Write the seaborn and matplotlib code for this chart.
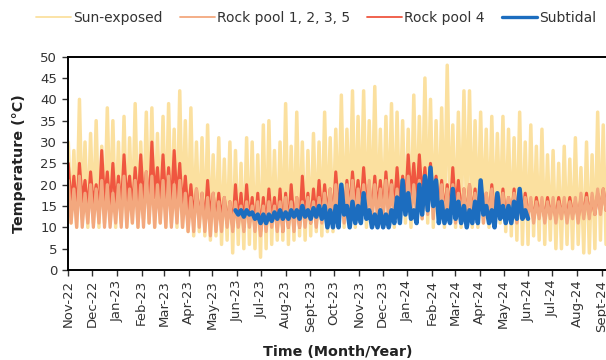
import matplotlib
matplotlib.use("Agg")
import matplotlib.pyplot as plt
from matplotlib.lines import Line2D
import numpy as np
import pandas as pd
import seaborn as sns

# ---------------- data (weekly local peaks / troughs) ----------------
start_date = "2022-11-01"

sun_hi = [30, 28, 40, 30, 32, 35, 29, 38, 35, 30,
          36, 31, 39, 30, 37, 38, 32, 36, 39, 33,
          42, 35, 38, 30, 31, 34, 27, 31, 26, 30,
          28, 25, 31, 30, 27, 34, 35, 28, 30, 39,
          29, 37, 30, 28, 32, 30, 37, 31, 33, 41,
          33, 42, 36, 42, 35, 43, 33, 36, 39, 37,
          35, 33, 41, 36, 45, 40, 35, 38, 48, 34,
          37, 42, 42, 35, 37, 33, 36, 32, 36, 33,
          31, 37, 30, 34, 29, 33, 27, 28, 25, 29,
          26, 31, 24, 30, 27, 37, 34]
sun_lo = [11, 10, 12, 10, 11, 10, 11, 12, 10, 11,
          10, 11, 10, 12, 11, 10, 11, 10, 11, 10,
          10, 9, 8, 9, 8, 7, 8, 6, 7, 4,
          6, 5, 6, 5, 3, 5, 6, 7, 7, 6,
          7, 8, 7, 8, 9, 8, 9, 9, 10, 10,
          11, 10, 11, 10, 11, 10, 10, 11, 10, 11,
          11, 10, 11, 12, 11, 10, 11, 10, 11, 10,
          10, 11, 10, 10, 11, 10, 10, 11, 9, 8,
          7, 6, 6, 8, 7, 6, 7, 5, 5, 6,
          5, 6, 4, 4, 5, 7, 6]

pool_hi = [21, 19, 22, 18, 20, 19, 21, 20, 18, 20,
           22, 19, 21, 20, 23, 22, 20, 21, 22, 20,
           21, 18, 17, 19, 18, 17, 18, 16, 17, 16,
           16, 15, 16, 15, 16, 15, 16, 15, 16, 17,
           16, 17, 16, 17, 16, 17, 18, 19, 20, 18,
           20, 21, 19, 20, 21, 20, 19, 21, 20, 19,
           21, 22, 20, 21, 22, 23, 21, 20, 19, 20,
           18, 19, 20, 18, 19, 18, 19, 17, 18, 17,
           18, 17, 17, 17, 16, 17, 16, 17, 16, 17,
           16, 17, 18, 17, 18, 19, 19]
pool_lo = [11, 10, 10, 11, 10, 11, 10, 10, 11, 10,
           10, 11, 10, 10, 11, 10, 11, 10, 10, 11,
           10, 9, 9, 10, 9, 8, 9, 9, 10, 9,
           10, 9, 10, 9, 8, 9, 10, 9, 9, 10,
           9, 10, 10, 11, 10, 11, 11, 11, 12, 11,
           12, 11, 12, 12, 11, 12, 12, 11, 12, 12,
           13, 12, 13, 12, 13, 12, 12, 11, 12, 11,
           12, 11, 12, 12, 11, 12, 11, 12, 11, 12,
           11, 12, 12, 11, 12, 11, 12, 11, 12, 11,
           12, 11, 12, 12, 13, 13, 14]

pool4_hi = [25, 22, 25, 21, 23, 20, 28, 23, 25, 22,
            27, 22, 24, 27, 23, 30, 24, 27, 24, 28,
            25, 22, 20, 19, 18, 21, 18, 18, 17, 16,
            20, 18, 20, 17, 18, 17, 19, 17, 19, 18,
            20, 17, 22, 18, 19, 21, 20, 19, 23, 20,
            21, 23, 21, 24, 20, 22, 21, 23, 21, 24,
            22, 27, 25, 27, 24, 25, 22, 21, 20, 24,
            21, 19, 20, 19, 21, 18, 20, 18, 19, 17,
            19, 17, 18, 16, 17, 16, 17, 16, 17, 16,
            17, 16, 17, 18, 17, 18, 19]
pool4_lo = [15, 14, 16, 14, 15, 13, 16, 14, 15, 14,
            16, 14, 15, 16, 14, 17, 15, 16, 15, 16,
            14, 13, 12, 12, 11, 12, 11, 12, 11, 10,
            11, 10, 11, 10, 9, 10, 11, 10, 9, 10,
            11, 10, 12, 11, 12, 12, 13, 12, 14, 13,
            14, 15, 14, 15, 13, 14, 13, 14, 14, 15,
            15, 17, 16, 17, 15, 16, 14, 13, 13, 14,
            13, 12, 13, 12, 13, 12, 13, 12, 12, 12,
            12, 12, 13, 12, 13, 12, 13, 12, 13, 12,
            13, 12, 13, 13, 13, 14, 14]

subtidal_start_week = 30
subtidal_hi = [14, 14, 14, 13.5, 13, 13, 13, 13.5, 14, 13.5,
               14, 14, 15, 14, 14.5, 15, 15, 14, 15, 20,
               15, 16, 15, 18, 14, 13, 14, 13, 14, 17,
               21, 18, 14, 20, 22, 24, 21, 16, 14, 19,
               16, 15, 14, 16, 21, 15, 14, 18, 15, 15,
               16, 19, 14]
subtidal_lo = [13, 12.5, 13, 12, 11, 11, 11.5, 12, 12, 12,
               12.5, 12, 12.5, 12, 12.5, 12, 10, 10, 10, 13,
               10, 11, 11, 12, 10, 10, 10, 10, 11, 11,
               13, 12, 11, 13, 14, 15, 11, 11, 11, 12,
               11, 10, 11, 11, 13, 11, 10, 12, 11, 11,
               12, 12, 12]

tick_labels = ["Nov-22", "Dec-22", "Jan-23", "Feb-23", "Mar-23", "Apr-23", "May-23",
               "Jun-23", "Jul-23", "Aug-23", "Sept-23", "Oct-23", "Nov-23", "Dec-23",
               "Jan-24", "Feb-24", "Mar-24", "Apr-24", "May-24", "Jun-24", "Jul-24",
               "Aug-24", "Sept-24"]
y_ticks = [0, 5, 10, 15, 20, 25, 30, 35, 40, 45, 50]

series_names = ["Sun-exposed", "Rock pool 1, 2, 3, 5", "Rock pool 4", "Subtidal"]
series_colors = ["#FBE09F", "#F3A87E", "#EF5640", "#1C6DBF"]


def zigzag(first_week, hi, lo):
    t0 = pd.Timestamp(start_date)
    times, vals = [], []
    for i, (h, l) in enumerate(zip(hi, lo)):
        times.append(t0 + pd.Timedelta(days=7 * (first_week + i)))
        vals.append(h)
        times.append(t0 + pd.Timedelta(days=7 * (first_week + i) + 3.5))
        vals.append(l)
    return pd.DataFrame({"date": times, "temp": vals})


sns.set_style("ticks")
plt.rcParams["font.family"] = ["DejaVu Sans"]

fig = plt.figure(figsize=(6.06, 3.60), dpi=100)
ax = fig.add_axes([68.3 / 606, 90 / 360, (612 - 68.3) / 606, 213.3 / 360])

df_sun = zigzag(0, sun_hi, sun_lo)
df_pool = zigzag(0, pool_hi, pool_lo)
df_pool4 = zigzag(0, pool4_hi, pool4_lo)
df_sub = zigzag(subtidal_start_week, subtidal_hi, subtidal_lo)

sns.lineplot(data=df_sun, x="date", y="temp", ax=ax, color=series_colors[0],
             linewidth=2.5, estimator=None, legend=False)
sns.lineplot(data=df_pool4, x="date", y="temp", ax=ax, color=series_colors[2],
             linewidth=2.2, estimator=None, legend=False)
sns.lineplot(data=df_pool, x="date", y="temp", ax=ax, color=series_colors[1],
             linewidth=2.3, estimator=None, legend=False)
sns.lineplot(data=df_sub, x="date", y="temp", ax=ax, color=series_colors[3],
             linewidth=3.2, estimator=None, legend=False)

t0 = pd.Timestamp(start_date)
ax.set_xlim(t0, t0 + pd.Timedelta(days=683))
ax.set_ylim(0, 50)
tick_dates = pd.date_range(start_date, periods=len(tick_labels), freq="MS")
ax.set_xticks(tick_dates)
ax.set_xticklabels(tick_labels, rotation=90, fontsize=9.5, color="#333333")
ax.set_yticks(y_ticks)
ax.set_yticklabels([str(v) for v in y_ticks], fontsize=9.5, color="#333333")
ax.tick_params(axis="x", direction="out", length=4, width=1, colors="#333333", pad=3)
ax.tick_params(axis="y", direction="out", length=4, width=1, colors="#333333", pad=4)

for s in ["left", "bottom", "top", "right"]:
    ax.spines[s].set_visible(True)
    ax.spines[s].set_color("black")
    ax.spines[s].set_linewidth(1.4)

ax.set_xlabel("Time (Month/Year)", fontsize=10.3, fontweight="bold", color="#222222")
ax.set_ylabel("Temperature (°C)", fontsize=10.3, fontweight="bold", color="#222222")
ax.xaxis.set_label_coords((338 - 68.3) / (612 - 68.3), (270 - 345) / 213.3)
ax.yaxis.set_label_coords((26 - 68.3) / (612 - 68.3), 0.5)

legend_handles = [Line2D([], [], color=c, linewidth=w)
                  for c, w in zip(series_colors, [1.3, 1.3, 1.3, 2.4])]
fig.legend(legend_handles, series_names, loc="center",
           bbox_to_anchor=(316 / 606, 1 - 18 / 360), ncol=4, frameon=False,
           fontsize=10, handlelength=2.5, handletextpad=0.15, columnspacing=1.25,
           labelcolor="#333333")

fig.savefig("out.png", dpi=100)
